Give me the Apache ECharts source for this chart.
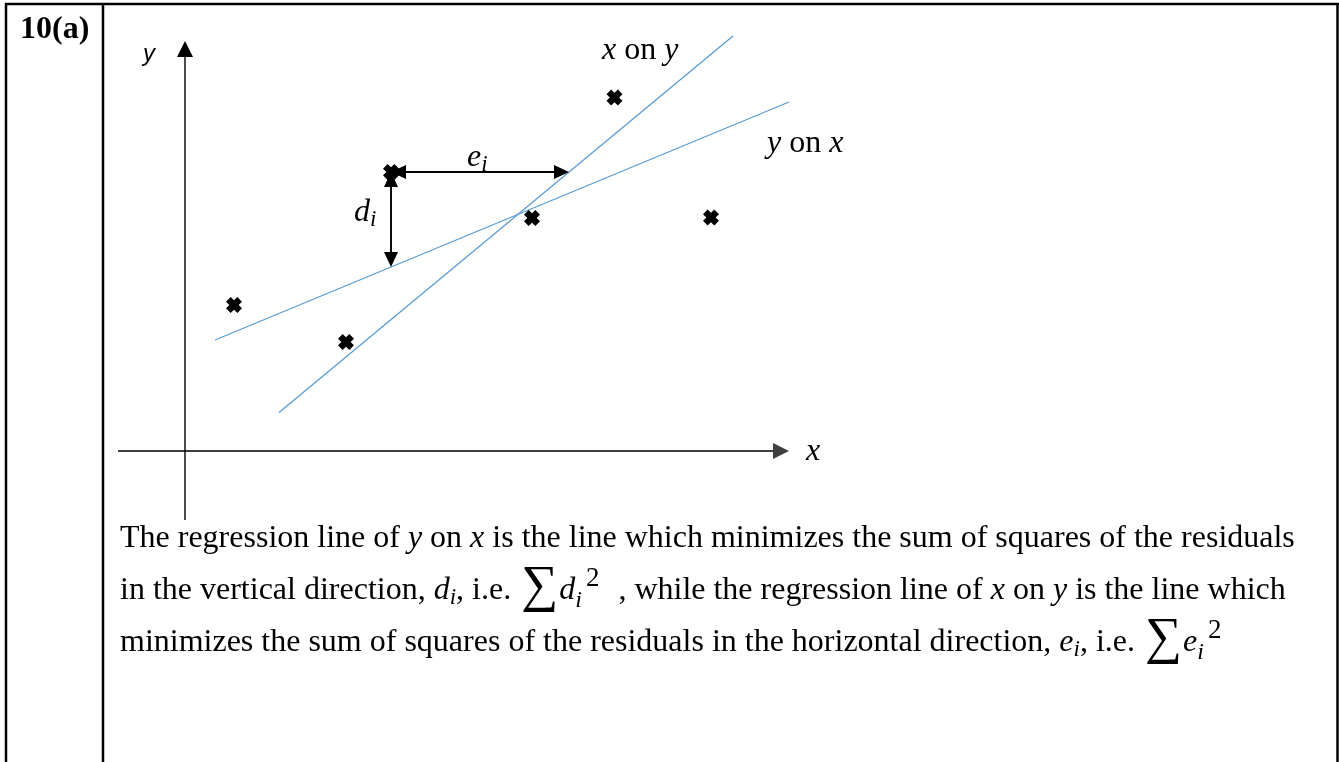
<!DOCTYPE html>
<html>
<head>
<meta charset="utf-8">
<script src="https://cdn.jsdelivr.net/npm/echarts@6/dist/echarts.min.js"></script>
<style>
  html, body { margin: 0; padding: 0; background: #ffffff; }
  #chart { width: 1339px; height: 762px; }
</style>
</head>
<body>
<div id="chart"></div>
<script>
// Sample points (x, y) in diagram units
const points = [[4.9, 14.6], [16.1, 10.9], [20.6, 27.9], [34.7, 23.3], [42.95, 35.35], [52.6, 23.35]];
// Regression lines, each given by its two end points
const lineYonX = [[3.0, 11.1], [60.4, 34.9]];
const lineXonY = [[9.4, 3.85], [54.8, 41.5]];
// Extents of the drawn coordinate axes
const xAxisSpan = [-6.7, 60.4];
const yAxisSpan = [-6.9, 41.0];
// Point whose residuals d_i and e_i are marked
const residualIndex = 2;

// Paragraph lines (rich-text markup)
const paragraph = [
  'The regression line of {i|y} on {i|x} is the line which minimizes the sum of squares of the residuals',
  'in the vertical direction, {i|d}{sub|i}, i.e. {sig|\u2211}{i|d}{sub2|i}{supw|2} , while the regression line of {i|x} on {i|y} is the line which',
  'minimizes the sum of squares of the residuals in the horizontal direction, {i|e}{sub|i}, i.e. {sig|\u2211}{i|e}{sub2|i}{sup|2}'
];

function yAt(line, x) {
  const [[x1, y1], [x2, y2]] = line;
  return y1 + (x - x1) * (y2 - y1) / (x2 - x1);
}
function xAt(line, y) {
  const [[x1, y1], [x2, y2]] = line;
  return x1 + (y - y1) * (x2 - x1) / (y2 - y1);
}

const p = points[residualIndex];
// [x1, y1, x2, y2, headAtStart, headAtEnd]
const residualArrows = [
  [p[0], p[1], p[0], yAt(lineYonX, p[0]), 1, 1],   // vertical residual d_i
  [p[0], p[1], xAt(lineXonY, p[1]), p[1], 1, 1]    // horizontal residual e_i
];
const axisArrows = [
  [xAxisSpan[0], 0, xAxisSpan[1], 0, 0, 1],
  [0, yAxisSpan[0], 0, yAxisSpan[1], 0, 1]
];

const SERIF = 'Liberation Serif';
const LH = 44;
const richStyles = {
  i:    { fontFamily: SERIF, fontSize: 32, fontStyle: 'italic', lineHeight: LH, fill: '#000' },
  sub:  { fontFamily: SERIF, fontSize: 23, fontStyle: 'italic', lineHeight: LH, padding: [14, 0, 0, 0], fill: '#000' },
  sub2: { fontFamily: SERIF, fontSize: 24, fontStyle: 'italic', lineHeight: LH, padding: [20, 0, 0, 0], fill: '#000' },
  sup:  { fontFamily: SERIF, fontSize: 27, lineHeight: LH, padding: [0, 0, 24, 4], fill: '#000' },
  supw: { fontFamily: SERIF, fontSize: 27, lineHeight: LH, padding: [0, 11, 24, 4], fill: '#000' },
  sig:  { fontFamily: SERIF, fontSize: 52, lineHeight: LH, padding: [0, 1, 7, 2], fill: '#000' }
};

function arrowRenderer(opts) {
  return function (params, api) {
    const a = api.coord([api.value(0), api.value(1)]);
    const b = api.coord([api.value(2), api.value(3)]);
    const startHead = api.value(4) === 1;
    const endHead = api.value(5) === 1;
    const dx = b[0] - a[0], dy = b[1] - a[1];
    const len = Math.hypot(dx, dy);
    const ux = dx / len, uy = dy / len, nx = -uy, ny = ux;
    const L = opts.headLength, W = opts.headWidth / 2;
    const head = function (tip, sx, sy) {
      return {
        type: 'polygon',
        shape: { points: [
          tip,
          [tip[0] - sx * L + nx * W, tip[1] - sy * L + ny * W],
          [tip[0] - sx * L - nx * W, tip[1] - sy * L - ny * W]
        ] },
        style: { fill: opts.color }
      };
    };
    const p1 = startHead ? [a[0] + ux * L * 0.8, a[1] + uy * L * 0.8] : a;
    const p2 = endHead ? [b[0] - ux * L * 0.8, b[1] - uy * L * 0.8] : b;
    const children = [{
      type: 'line',
      shape: { x1: p1[0], y1: p1[1], x2: p2[0], y2: p2[1] },
      style: { stroke: opts.color, lineWidth: opts.width }
    }];
    if (endHead) children.push(head(b, ux, uy));
    if (startHead) children.push(head(a, -ux, -uy));
    return { type: 'group', children: children };
  };
}

function axisRenderer(params, api) {
  // x axis is grey and a little heavier, y axis thin black
  const isX = params.dataIndex === 0;
  return arrowRenderer({
    color: isX ? '#3f3f3f' : '#000000',
    width: isX ? 2 : 1.4,
    headLength: 16,
    headWidth: 16
  })(params, api);
}

function textEl(x, y, text, style, align) {
  return {
    type: 'text',
    x: x, y: y,
    silent: true,
    style: Object.assign({
      text: text,
      fill: '#000',
      align: align || 'left', textAlign: align || 'left',
      verticalAlign: 'middle', textVerticalAlign: 'middle',
      rich: richStyles
    }, style)
  };
}

const baseText = { fontFamily: SERIF, fontSize: 32, lineHeight: LH };

const graphics = [
  // table frame
  { type: 'line', shape: { x1: 5, y1: 4, x2: 1339, y2: 4 }, style: { stroke: '#000', lineWidth: 2.5 } },
  { type: 'line', shape: { x1: 6, y1: 3, x2: 6, y2: 762 }, style: { stroke: '#000', lineWidth: 2.5 } },
  { type: 'line', shape: { x1: 103, y1: 3, x2: 103, y2: 762 }, style: { stroke: '#000', lineWidth: 2.5 } },
  { type: 'line', shape: { x1: 1337.5, y1: 3, x2: 1337.5, y2: 762 }, style: { stroke: '#000', lineWidth: 2.5 } },
  textEl(20, 30, '10(a)', { fontFamily: SERIF, fontSize: 32, fontWeight: 'bold', lineHeight: LH }),
  // axis and line labels
  textEl(149, 54, 'y', { fontFamily: 'Liberation Sans', fontSize: 24, fontStyle: 'italic', lineHeight: 30 }, 'center'),
  textEl(813, 452, 'x', { fontFamily: SERIF, fontSize: 32, fontStyle: 'italic', lineHeight: LH }, 'center'),
  textEl(602, 51, '{i|x} on {i|y}', baseText),
  textEl(767, 144, '{i|y} on {i|x}', baseText),
  textEl(354, 213, '{i|d}{sub|i}', baseText),
  textEl(467, 158, '{i|e}{sub|i}', baseText)
];
paragraph.forEach(function (line, k) {
  graphics.push(textEl(120, 539 + k * 52, line, baseText));
});

const chart = echarts.init(document.getElementById('chart'), null, { renderer: 'canvas' });
chart.setOption({
  animation: false,
  backgroundColor: '#ffffff',
  grid: { left: 105, top: 31, width: 740, height: 500, containLabel: false },
  xAxis: { type: 'value', min: -8, max: 66, show: false },
  yAxis: { type: 'value', min: -8, max: 42, show: false },
  series: [
    {
      name: 'axes', type: 'custom', renderItem: axisRenderer,
      data: axisArrows, encode: { x: [0, 2], y: [1, 3] }, clip: false, silent: true, z: 1
    },
    {
      name: 'y on x', type: 'line', data: lineYonX, showSymbol: false, clip: false, silent: true,
      lineStyle: { color: '#5b9bd5', width: 1.3 }, z: 2
    },
    {
      name: 'x on y', type: 'line', data: lineXonY, showSymbol: false, clip: false, silent: true,
      lineStyle: { color: '#5b9bd5', width: 1.3 }, z: 2
    },
    {
      name: 'points', type: 'scatter', data: points, clip: false, silent: true,
      symbol: 'path://M2.9,0 L5,2.1 L7.1,0 L10,2.9 L7.9,5 L10,7.1 L7.1,10 L5,7.9 L2.9,10 L0,7.1 L2.1,5 L0,2.9 Z',
      symbolSize: 16,
      itemStyle: { color: '#000', opacity: 1 }, z: 3
    },
    {
      name: 'residuals', type: 'custom',
      renderItem: arrowRenderer({ color: '#000', width: 1.9, headLength: 15, headWidth: 14 }),
      data: residualArrows, encode: { x: [0, 2], y: [1, 3] }, clip: false, silent: true, z: 4
    }
  ],
  graphic: graphics
});
</script>
</body>
</html>
